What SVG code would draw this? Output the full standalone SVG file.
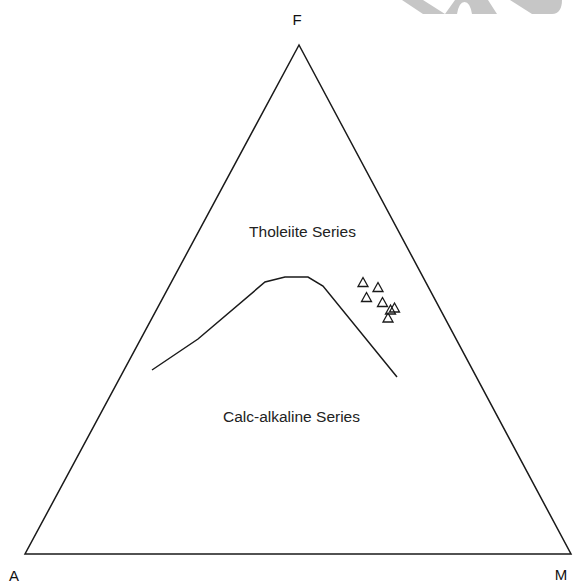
<svg xmlns="http://www.w3.org/2000/svg" width="573" height="585" viewBox="0 0 573 585">
<style>
.lbl{font-family:"Liberation Sans",Arial,sans-serif;font-size:15px;fill:#111;text-anchor:middle}
.ser{font-family:"Liberation Sans",Arial,sans-serif;font-size:15.5px;fill:#222;text-anchor:middle}
.edge{fill:none;stroke:#1a1a1a;stroke-width:1.5;stroke-linejoin:miter}
.pt{fill:none;stroke:#1a1a1a;stroke-width:1.3}
.wm{fill:#c6c6c6;stroke:none}
</style>
<defs>
<polygon id="tri" class="pt" points="0,-4.5 5,4.5 -5,4.5"/>
</defs>
<rect width="573" height="585" fill="#fff"/>
<g id="watermark">
<path class="wm" d="M402,0 L423,0 L445,14 L423,14 Z"/>
<path class="wm" d="M455,0 L488,0 L497,14 L472,14 Q470,2 464.5,2 Q459,2 457,14 L445,14 Z"/>
<path class="wm" d="M510,0 L562,0 C562,8 559,14 552,14 L532,14 Z"/>
</g>
<g id="connectors">
<polygon id="triangle" class="edge" points="299,45 25,554 571,554"/>
<polyline id="boundary" class="edge" points="152,370 198,339 265,282 285,277 308,277 323,286 397,377"/>
</g>
<g id="labels">
<g id="node-F"><text class="lbl" x="297" y="25">F</text></g>
<g id="node-A"><text class="lbl" x="14" y="581">A</text></g>
<g id="node-M"><text class="lbl" x="561" y="580">M</text></g>
<g id="node-tholeiite"><text class="ser" x="302.5" y="237">Tholeiite Series</text></g>
<g id="node-calc"><text class="ser" x="291.5" y="422">Calc-alkaline Series</text></g>
</g>
<g id="samples">
<use href="#tri" x="363" y="282"/>
<use href="#tri" x="378" y="287"/>
<use href="#tri" x="366.5" y="297"/>
<use href="#tri" x="382.5" y="302"/>
<use href="#tri" x="394.5" y="307.5"/>
<use href="#tri" x="390.5" y="309.5"/>
<use href="#tri" x="388" y="317.5"/>
</g>
</svg>
